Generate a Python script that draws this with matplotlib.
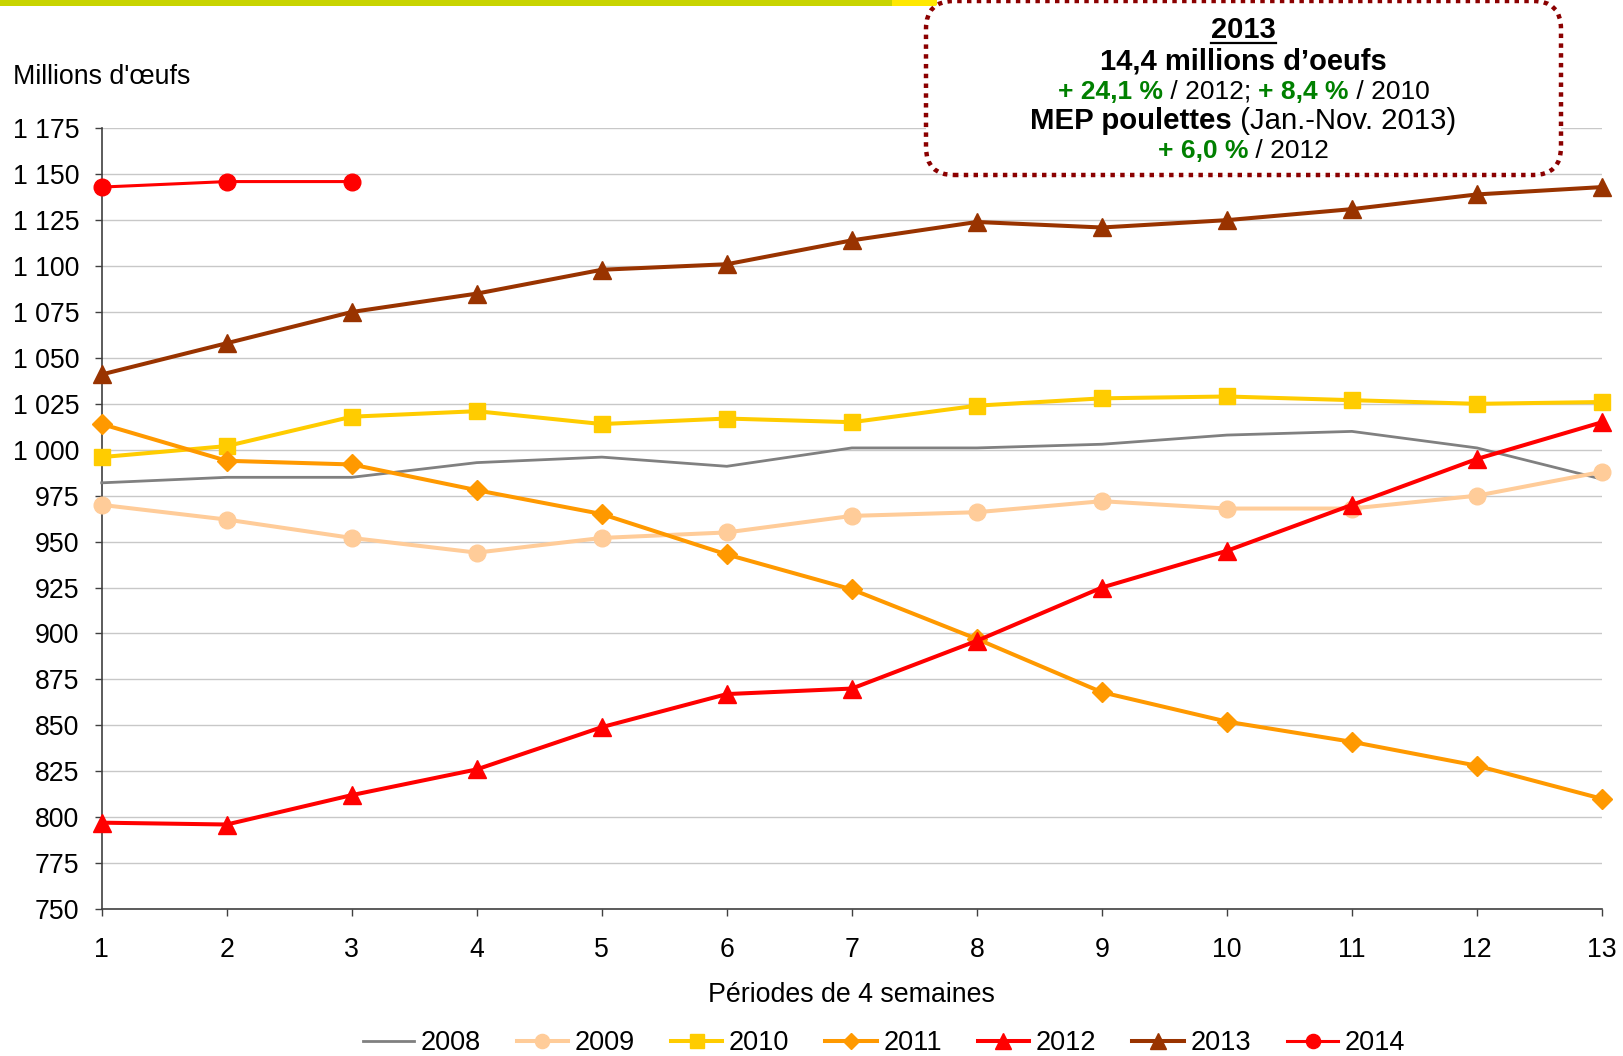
import matplotlib
matplotlib.use("Agg")
import matplotlib.pyplot as plt
from matplotlib.patches import FancyBboxPatch, Rectangle
from matplotlib.lines import Line2D
from matplotlib.ticker import FuncFormatter

plt.rcParams['font.family'] = ['Liberation Sans', 'DejaVu Sans']

periods = [1, 2, 3, 4, 5, 6, 7, 8, 9, 10, 11, 12, 13]
y2008 = [982, 985, 985, 993, 996, 991, 1001, 1001, 1003, 1008, 1010, 1001, 984]
y2009 = [970, 962, 952, 944, 952, 955, 964, 966, 972, 968, 968, 975, 988]
y2010 = [996, 1002, 1018, 1021, 1014, 1017, 1015, 1024, 1028, 1029, 1027, 1025, 1026]
y2011 = [1014, 994, 992, 978, 965, 943, 924, 897, 868, 852, 841, 828, 810]
y2012 = [797, 796, 812, 826, 849, 867, 870, 896, 925, 945, 970, 995, 1015]
y2013 = [1041, 1058, 1075, 1085, 1098, 1101, 1114, 1124, 1121, 1125, 1131, 1139, 1143]
periods2014 = [1, 2, 3]
y2014 = [1143, 1146, 1146]
years = ["2008", "2009", "2010", "2011", "2012", "2013", "2014"]
yticks = list(range(750, 1176, 25))

W, H = 1623, 1056
fig = plt.figure(figsize=(W / 100, H / 100), dpi=100)
ax = fig.add_axes([101.7 / W, 1 - 909 / H, (1602 - 101.7) / W, (909 - 128.3) / H])

styles = [
    dict(color="#808080", lw=2.0, marker=None, ms=0),
    dict(color="#FFCC99", lw=2.9, marker="o", ms=12),
    dict(color="#FFCC00", lw=2.9, marker="s", ms=12),
    dict(color="#FF9900", lw=2.9, marker="D", ms=10),
    dict(color="#FF0000", lw=2.9, marker="^", ms=13),
    dict(color="#993300", lw=2.9, marker="^", ms=13),
    dict(color="#FF0000", lw=2.2, marker="o", ms=12),
]
series = [(periods, y2008), (periods, y2009), (periods, y2010), (periods, y2011),
          (periods, y2012), (periods, y2013), (periods2014, y2014)]

handles = []
for (xs, ys), st, lab in zip(series, styles, years):
    ln, = ax.plot(xs, ys, color=st["color"], lw=st["lw"], marker=st["marker"],
                  ms=st["ms"], mec=st["color"], mfc=st["color"], label=lab,
                  clip_on=False, zorder=3)
    handles.append(ln)

ax.set_xlim(1, 13)
ax.set_ylim(750, 1175)
ax.set_xticks(periods)
ax.set_yticks(yticks)
ax.yaxis.set_major_formatter(FuncFormatter(lambda v, p: f"{int(v):,}".replace(",", " ")))
ax.grid(axis="y", color="#C8C8C8", lw=1.0, zorder=0)
ax.set_axisbelow(True)
for s in ["top", "right"]:
    ax.spines[s].set_visible(False)
for s in ["left", "bottom"]:
    ax.spines[s].set_color("#404040")
    ax.spines[s].set_linewidth(1.2)
ax.tick_params(axis="y", direction="out", length=5, width=1, color="#404040",
               labelsize=19.2, pad=11)
ax.tick_params(axis="x", direction="out", length=5, width=1, color="#404040",
               labelsize=19.2, pad=15)

ax.set_xlabel("Périodes de 4 semaines", fontsize=19.3)
ax.xaxis.label.set_va("center")
ax.xaxis.set_label_coords(0.5, -(995 - 909) / (909 - 128.3))

fig.text(13 / W, 1 - 77 / H, "Millions d'œufs", fontsize=19.3, ha="left", va="center")

fig.legend(handles=handles, labels=years, loc="center", ncol=7,
           bbox_to_anchor=(884 / W, 1 - 1043 / H), frameon=False, fontsize=19.5,
           handlelength=1.9, handletextpad=0.25, columnspacing=1.32, numpoints=1,
           markerscale=0.85)

# top decorative bar
fig.patches.append(Rectangle((0, 1 - 6 / H), 892 / W, 6 / H, transform=fig.transFigure,
                             facecolor="#C8D400", edgecolor="none", zorder=1))
fig.patches.append(Rectangle((892 / W, 1 - 6 / H), 45 / W, 6 / H, transform=fig.transFigure,
                             facecolor="#FFE800", edgecolor="none", zorder=1))

# annotation box (in inches)
bx0, bx1 = 926 / 100, 1561 / 100
by0, by1 = (H - 175) / 100, (H - 1) / 100
box = FancyBboxPatch((bx0, by0), bx1 - bx0, by1 - by0,
                     boxstyle="round,pad=0,rounding_size=0.28",
                     transform=fig.dpi_scale_trans, facecolor="white",
                     edgecolor="#8B0000", lw=3.2, linestyle=(0, (1, 1.2)), zorder=5)
fig.patches.append(box)

GREEN = "#008000"
lines_spec = [
    (30, 21, [("2013", "bold", "black")]),
    (61, 21, [("14,4 millions d\u2019oeufs", "bold", "black")]),
    (92, 19, [("+ 24,1 %", "bold", GREEN), (" / 2012; ", "normal", "black"),
              ("+ 8,4 %", "bold", GREEN), (" / 2010", "normal", "black")]),
    (121, 21.2, [("MEP poulettes", "bold", "black"), (" (Jan.-Nov. 2013)", "normal", "black")]),
    (151, 19, [("+ 6,0 %", "bold", GREEN), (" / 2012", "normal", "black")]),
]
cx = (926 + 1561) / 2
renderer = fig.canvas.get_renderer()
for ypx, size, parts in lines_spec:
    objs = []
    for txt, wt, col in parts:
        t = fig.text(0, 1 - ypx / H, txt, fontsize=size, fontweight=wt, color=col,
                     ha="left", va="center", zorder=6)
        objs.append(t)
    widths = [o.get_window_extent(renderer).width for o in objs]
    total = sum(widths)
    x = cx - total / 2
    for o, w in zip(objs, widths):
        o.set_x(x / W)
        x += w
    if parts[0][0] == "2013":
        ext = objs[0].get_window_extent(renderer)
        fig.add_artist(Line2D([ext.x0 / W, ext.x1 / W], [1 - (ypx + 13) / H] * 2,
                              transform=fig.transFigure, color="black", lw=1.6, zorder=6))

fig.savefig("out.png", dpi=100)
